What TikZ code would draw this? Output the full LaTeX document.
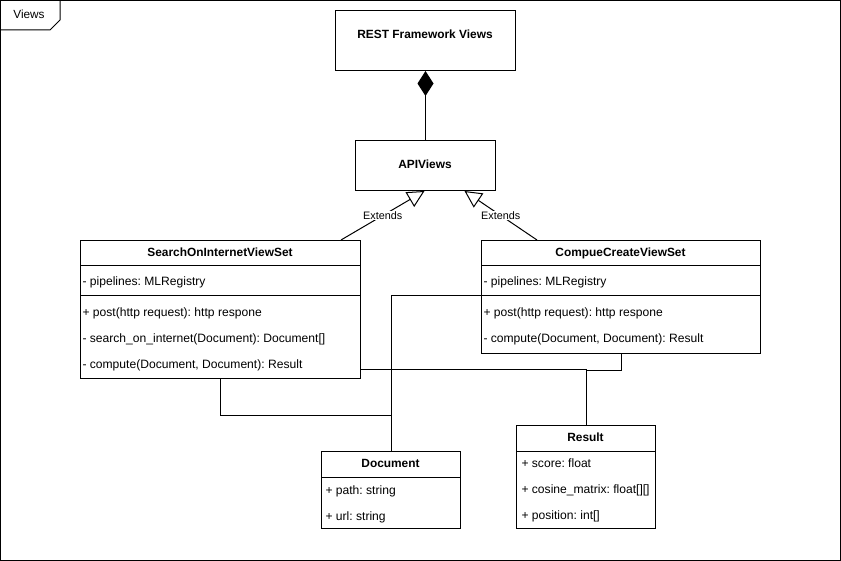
\documentclass[tikz,border=0pt]{standalone}
\usepackage{fontspec}
\setmainfont{Liberation Sans}
\usetikzlibrary{arrows.meta}
\frenchspacing
\newcommand{\us}{\char"5F\relax}
\begin{document}
\begin{tikzpicture}[x=1pt,y=-1pt,
  line width=1pt,
  classbox/.style={draw, fill=white, inner sep=0pt, anchor=north west},
  title/.style={font=\fontsize{11.9}{14}\selectfont\bfseries, inner sep=0pt, anchor=base},
  member/.style={font=\fontsize{12.1}{14}\selectfont, inner sep=0pt, anchor=base west},
  lbl/.style={font=\fontsize{10.8}{13}\selectfont, fill=white, inner sep=1pt},
  comp/.style={-{Diamond[length=25pt,width=16pt,fill=black]}},
  ext/.style={-{Triangle[open,length=17pt,width=17pt,fill=white]}},
]
\useasboundingbox (0,0) rectangle (841,561);

% package frame
\draw (0.5,0.5) rectangle (840.5,560.5);
\draw (0.5,0.5) -- (60,0.5) -- (60,20) -- (50,30) -- (0.5,30);
\node[font=\fontsize{11.8}{14}\selectfont, inner sep=0pt, anchor=base] (frametitle) at (29,19) {Views};

% REST Framework Views
\node[classbox, minimum width=180pt, minimum height=60pt] (rest) at (335,10) {};
\node[title] (restT) at (425,39) {REST Framework Views};

% APIViews
\node[classbox, minimum width=140pt, minimum height=50pt] (api) at (355,140) {};
\node[title] (apiT) at (425,169) {APIViews};

% SearchOnInternetViewSet
\node[classbox, minimum width=280pt, minimum height=138pt] (search) at (80,240) {};
\draw (80,266) -- (360,266);
\draw (80,296) -- (360,296);
\node[title] (searchT) at (220,257) {SearchOnInternetViewSet};
\node[member] (search1) at (82,286) {- pipelines: MLRegistry};
\node[member] (search2) at (82,317) {+ post(http request): http respone};
\node[member] (search3) at (82,343) {- search\us on\us internet(Document): Document[]};
\node[member] (search4) at (82,369) {- compute(Document, Document): Result};

% CompueCreateViewSet
\node[classbox, minimum width=279pt, minimum height=113pt] (compue) at (481,240) {};
\draw (481,266) -- (760,266);
\draw (481,296) -- (760,296);
\node[title] (compueT) at (620.5,257) {CompueCreateViewSet};
\node[member] (compue1) at (483,286) {- pipelines: MLRegistry};
\node[member] (compue2) at (483,317) {+ post(http request): http respone};
\node[member] (compue3) at (483,343) {- compute(Document, Document): Result};

% Document
\node[classbox, minimum width=139pt, minimum height=77pt] (document) at (321,451) {};
\draw (321,477) -- (460,477);
\node[title] (documentT) at (390.5,467.5) {Document};
\node[member] (document1) at (325,494) {+ path: string};
\node[member] (document2) at (325,520) {+ url: string};

% Result
\node[classbox, minimum width=139pt, minimum height=103pt] (result) at (516,425) {};
\draw (516,451) -- (655,451);
\node[title] (resultT) at (585.5,441) {Result};
\node[member] (result1) at (521,467) {+ score: float};
\node[member] (result2) at (521,493) {+ cosine\us matrix: float[][]};
\node[member] (result3) at (521,519) {+ position: int[]};

% composition
\draw[comp] (api.north) -- (rest.south);

% generalisations
\draw[ext] ([xshift=-20pt]search.north east) -- node[lbl] (ext1) {Extends} ([xshift=-1pt]api.south);
\draw[ext] ([xshift=56pt]compue.north west) -- node[lbl] (ext2) {Extends} ([xshift=39pt]api.south);

% associations
\draw (search.south) -- ++(0,36) -| (document.north);
\draw ([yshift=-56pt]compue.north west) -| (document.north);
\draw ([yshift=-130pt]search.north east) -| (result.north);
\draw (compue.south) -- ++(0,17) -| (result.north);
\end{tikzpicture}
\end{document}
